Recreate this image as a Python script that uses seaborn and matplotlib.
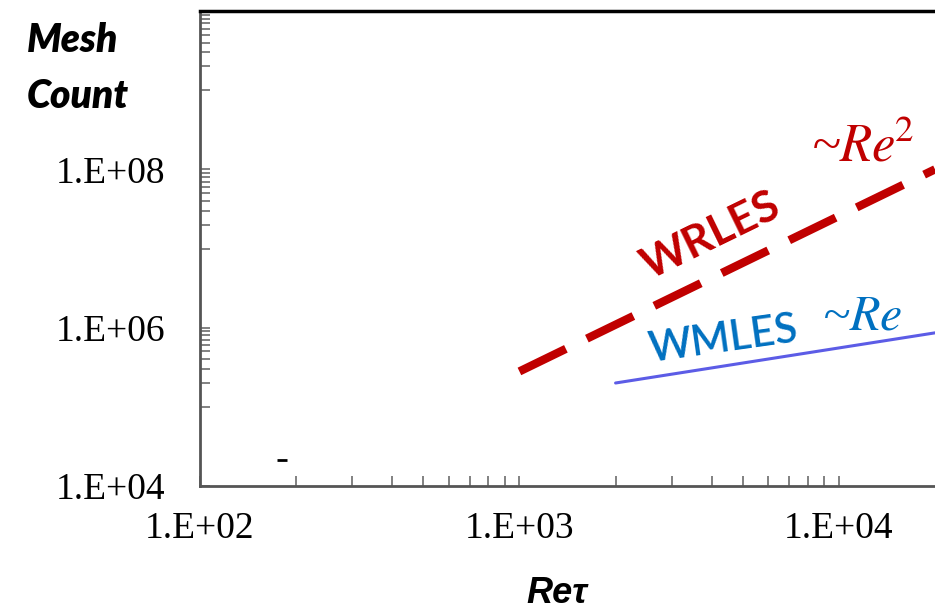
import matplotlib
matplotlib.use("Agg")
import matplotlib.pyplot as plt
import seaborn as sns

# values (log-log)
re_wrles = [1.0e3, 2.0e4]
mesh_wrles = [2.8e5, 1.0e8]
re_wmles = [2.0e3, 2.0e4]
mesh_wmles = [2.0e5, 8.6e5]
re_mark = [180]
mesh_mark = [2.1e4]

x_ticks = [1e2, 1e3, 1e4]
x_labels = ["1.E+02", "1.E+03", "1.E+04"]
y_ticks = [1e4, 1e6, 1e8]
y_labels = ["1.E+04", "1.E+06", "1.E+08"]

red = "#C00000"
blue_txt = "#0070C0"
blue_line = "#5C5CE6"

sns.set_style("white")
plt.rcParams['mathtext.fontset'] = 'stix'

fig = plt.figure(figsize=(9.35, 6.16), dpi=100)
ax = fig.add_axes([200/935, (616-486)/616, 735/935, 475/616])
ax.set_xscale('log'); ax.set_yscale('log')

sns.lineplot(x=re_wrles, y=mesh_wrles, ax=ax, color=red, lw=6,
             dashes=False, solid_capstyle='butt')
ax.lines[-1].set_linestyle((0, (6.2, 2.8)))
sns.lineplot(x=re_wmles, y=mesh_wmles, ax=ax, color=blue_line, lw=2.2)
ax.plot(re_mark, mesh_mark, marker='_', color='black', ms=7, mew=2, ls='none')

ax.set_xlim(1e2, 2e4)
ax.set_ylim(1e4, 1e10)

ax.set_xticks(x_ticks, x_labels)
ax.set_yticks(y_ticks, y_labels)
ax.set_xticks([k*10**e for e in (2, 3) for k in range(2, 10)], minor=True)
ax.set_yticks([k*10**e for e in (5, 7, 9) for k in range(1, 10)] + [1e10], minor=True)
ax.xaxis.set_minor_formatter(plt.NullFormatter())
ax.yaxis.set_minor_formatter(plt.NullFormatter())
ax.tick_params(which='both', bottom=True, left=True, direction='in', length=7,
               width=1.3, color='#777777', labelcolor='black')
ax.tick_params(axis='y', pad=25)
ax.tick_params(axis='x', pad=18)
for lab in ax.get_xticklabels() + ax.get_yticklabels():
    lab.set_fontfamily('Liberation Serif'); lab.set_fontsize(27)

for s in ['left', 'bottom']:
    ax.spines[s].set_color('#555555'); ax.spines[s].set_linewidth(2)
ax.spines['top'].set_color('black'); ax.spines['top'].set_linewidth(2.5)
ax.spines['right'].set_visible(False)

ax.set_xlabel("Reτ", fontfamily='Liberation Sans', fontweight='bold',
              fontstyle='italic', fontsize=26, color='black')
ax.xaxis.set_label_coords((557-200)/735, -(576-486)/475)
ax.set_ylabel("Mesh\nCount", rotation=0, fontfamily='Lato', fontweight='heavy',
              fontstyle='italic', fontsize=28, ha='left', va='top', linespacing=1.65,
              color='black')
ax.yaxis.set_label_coords((27-200)/735, (486-22)/475)

ax.text(3981, 1.46e7, "WRLES", color=red, fontfamily='Lato', fontweight='bold',
        fontsize=32, rotation=26, ha='center', va='center', rotation_mode='anchor')
ax.text(8.18e3, 1.26e8, "~$Re^{\\!2}$", color=red, fontfamily='Liberation Serif',
        fontstyle='italic', fontsize=38, ha='left', va='baseline')
ax.text(4.34e3, 7.05e5, "WMLES", color=blue_txt, fontfamily='Lato', fontweight='semibold',
        fontsize=30, rotation=8, ha='center', va='center', rotation_mode='anchor')
ax.text(8.85e3, 9.44e5, "~$Re$", color=blue_txt, fontfamily='Liberation Serif',
        fontstyle='italic', fontsize=36, ha='left', va='baseline')

fig.savefig("out.png", dpi=100)
